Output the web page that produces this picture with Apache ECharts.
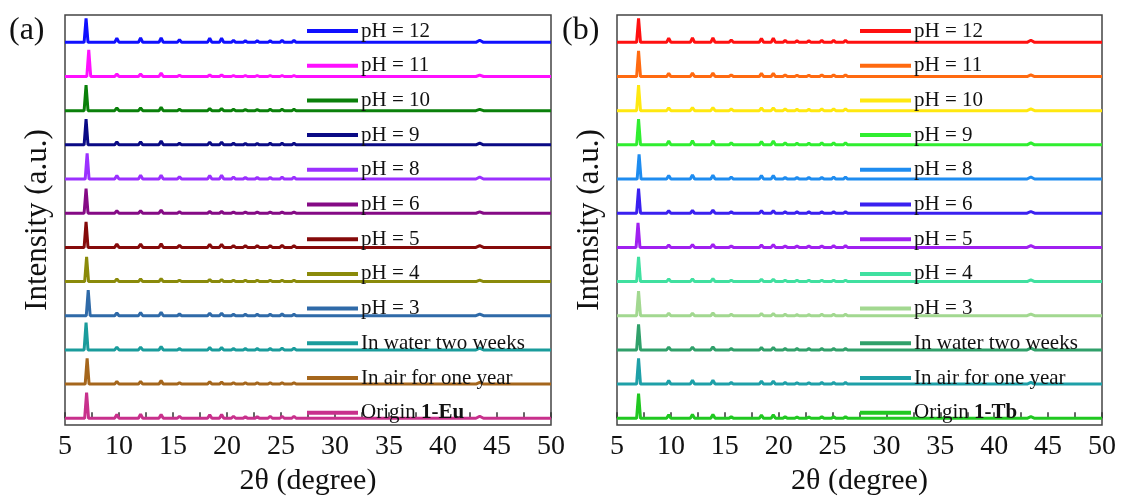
<!DOCTYPE html>
<html><head><meta charset="utf-8">
<script src="https://cdn.jsdelivr.net/npm/echarts@6/dist/echarts.min.js"></script>
<style>html,body{margin:0;padding:0;background:#fff}#c{width:1123px;height:501px}</style>
</head><body><div id="c"></div>
<script>
// ---- data ----
const xTicks = [5, 10, 15, 20, 25, 30, 35, 40, 45, 50];
const labelsA = ['pH = 12','pH = 11','pH = 10','pH = 9','pH = 8','pH = 6','pH = 5','pH = 4','pH = 3','In water two weeks','In air for one year','Origin 1-Eu'];
const labelsB = ['pH = 12','pH = 11','pH = 10','pH = 9','pH = 8','pH = 6','pH = 5','pH = 4','pH = 3','In water two weeks','In air for one year','Origin 1-Tb'];
const colorsA = ['#1010ff','#ff10ff','#0a800a','#0a0a85','#9b30ff','#850a85','#850a0a','#8a8a0a','#2f6aa8','#1a9c9c','#a5661c','#c8308c'];
const colorsB = ['#ff1010','#ff6a10','#ffe810','#30ee30','#1e8cf0','#3a20f0','#a020f0','#40e0a0','#a2d890','#30a06a','#1ea0a8','#20c820'];
// peak positions (2θ, degree)
const peakPos = [9.8, 12.0, 13.9, 15.6, 18.4, 19.5, 20.6, 21.7, 22.8, 24.0, 25.1, 26.2, 43.4];
// main peak position per trace (top to bottom)
const mainPosA = [6.95, 7.2, 6.95, 6.95, 7.05, 6.95, 6.95, 7.0, 7.15, 6.95, 7.05, 7.0];
const mainPosB = [7.0, 7.0, 7.0, 7.0, 7.05, 7.0, 6.95, 7.0, 7.0, 7.0, 7.0, 7.0];
// main peak heights (in units of the trace spacing)
const mainHA = [0.70, 0.78, 0.75, 0.75, 0.75, 0.72, 0.75, 0.72, 0.75, 0.80, 0.75, 0.75];
const mainHB = [0.70, 0.75, 0.75, 0.75, 0.72, 0.72, 0.72, 0.72, 0.72, 0.75, 0.75, 0.72];
// minor peak heights per trace (same order as peakPos)
const minorA = [
  [0.12,0.13,0.13,0.08,0.12,0.12,0.06,0.05,0.05,0.05,0.06,0.06,0.06],
  [0.07,0.07,0.10,0.04,0.05,0.05,0.03,0.03,0.03,0.03,0.03,0.03,0.04],
  [0.08,0.08,0.10,0.04,0.06,0.06,0.04,0.03,0.03,0.04,0.04,0.04,0.04],
  [0.09,0.09,0.11,0.05,0.08,0.08,0.05,0.04,0.04,0.05,0.05,0.05,0.05],
  [0.10,0.11,0.11,0.07,0.10,0.11,0.06,0.05,0.05,0.05,0.06,0.06,0.06],
  [0.07,0.07,0.09,0.04,0.05,0.05,0.03,0.03,0.03,0.03,0.03,0.03,0.04],
  [0.10,0.10,0.11,0.06,0.09,0.09,0.05,0.05,0.05,0.05,0.06,0.05,0.05],
  [0.08,0.08,0.09,0.04,0.06,0.06,0.04,0.04,0.04,0.04,0.04,0.04,0.04],
  [0.08,0.09,0.10,0.05,0.07,0.07,0.04,0.04,0.04,0.04,0.05,0.04,0.05],
  [0.08,0.08,0.10,0.04,0.07,0.07,0.04,0.04,0.04,0.04,0.05,0.05,0.05],
  [0.08,0.08,0.10,0.04,0.07,0.06,0.04,0.04,0.04,0.04,0.04,0.04,0.05],
  [0.11,0.12,0.11,0.06,0.10,0.11,0.06,0.05,0.05,0.06,0.06,0.06,0.06]
];
const minorB = [
  [0.12,0.13,0.13,0.07,0.11,0.12,0.06,0.05,0.05,0.06,0.06,0.06,0.06],
  [0.09,0.10,0.10,0.05,0.09,0.09,0.05,0.04,0.04,0.05,0.05,0.05,0.05],
  [0.08,0.09,0.09,0.05,0.08,0.08,0.05,0.04,0.04,0.05,0.05,0.05,0.05],
  [0.11,0.12,0.12,0.06,0.10,0.11,0.06,0.05,0.05,0.06,0.06,0.06,0.06],
  [0.10,0.12,0.11,0.06,0.10,0.10,0.05,0.05,0.05,0.05,0.06,0.06,0.06],
  [0.07,0.08,0.09,0.04,0.07,0.07,0.04,0.04,0.04,0.04,0.04,0.04,0.05],
  [0.07,0.08,0.09,0.04,0.07,0.08,0.04,0.04,0.04,0.04,0.05,0.05,0.05],
  [0.08,0.08,0.09,0.04,0.07,0.07,0.04,0.04,0.04,0.04,0.04,0.04,0.05],
  [0.07,0.07,0.08,0.04,0.06,0.06,0.04,0.03,0.03,0.04,0.04,0.04,0.05],
  [0.08,0.08,0.09,0.04,0.07,0.07,0.04,0.04,0.04,0.04,0.04,0.04,0.05],
  [0.10,0.11,0.11,0.05,0.09,0.09,0.05,0.04,0.04,0.05,0.05,0.05,0.05],
  [0.10,0.11,0.11,0.05,0.09,0.10,0.05,0.04,0.04,0.05,0.05,0.05,0.05]
];

// ---- build ----
const FONT = '"Liberation Serif","Times New Roman",serif';
function trace(offset, mainPos, mainH, minor) {
  const pts = [[5, offset], [mainPos - 0.18, offset], [mainPos, offset + mainH], [mainPos + 0.18, offset]];
  peakPos.forEach((p, i) => {
    const w = p > 40 ? 0.35 : 0.2;
    pts.push([p - w, offset], [p, offset + minor[i]], [p + w, offset]);
  });
  pts.push([50, offset]);
  return pts;
}
const series = [];
function addPanel(prefix, labels, colors, mainPos, mainH, minor, idx) {
  labels.forEach((lab, i) => {
    series.push({
      name: prefix + lab, type: 'line', xAxisIndex: idx, yAxisIndex: idx,
      data: trace(11 - i, mainPos[i], mainH[i], minor[i]),
      showSymbol: false, symbol: 'none', smooth: false,
      lineStyle: { width: 3, color: colors[i] }, itemStyle: { color: colors[i] },
      animation: false, z: 3
    });
  });
}
addPanel('A_', labelsA, colorsA, mainPosA, mainHA, minorA, 0);
addPanel('B_', labelsB, colorsB, mainPosB, mainHB, minorB, 1);

function legend(prefix, labels, left) {
  return {
    data: labels.map(l => prefix + l), orient: 'vertical', left: left, top: 20, padding: 0,
    icon: 'rect', itemWidth: 51, itemHeight: 4, itemGap: 12.7, selectedMode: false,
    formatter: n => {
      const t = n.slice(2);
      const m = t.match(/^Origin (.*)$/);
      return m ? 'Origin {b|' + m[1] + '}' : t;
    },
    textStyle: { fontFamily: FONT, fontSize: 21, lineHeight: 22, color: '#111', padding: [0, 0, 0, -2],
      rich: { b: { fontFamily: FONT, fontSize: 21, lineHeight: 22, fontWeight: 'bold', color: '#111' } } }
  };
}
function xAxis(idx) {
  return {
    type: 'value', gridIndex: idx, min: 5, max: 50, interval: 5,
    name: '2θ (degree)', nameLocation: 'middle', nameGap: 38,
    nameTextStyle: { fontFamily: FONT, fontSize: 30, color: '#111' },
    axisLine: { show: false },
    axisTick: { show: true, inside: true, length: 6, lineStyle: { color: '#333', width: 1.5 } },
    minorTick: { show: true, splitNumber: 2, length: 6, lineStyle: { color: '#333', width: 1.5 } },
    splitLine: { show: false },
    axisLabel: { fontFamily: FONT, fontSize: 28, color: '#111', margin: 8 }
  };
}
function yAxis(idx) {
  return {
    type: 'value', gridIndex: idx, min: -0.2, max: 11.8,
    name: 'Intensity (a.u.)', nameLocation: 'middle', nameGap: 12,
    nameTextStyle: { fontFamily: FONT, fontSize: 31, color: '#111' },
    axisLine: { show: false }, axisTick: { show: false }, axisLabel: { show: false }, splitLine: { show: false }
  };
}
const option = {
  animation: false,
  backgroundColor: '#fff',
  grid: [
    { left: 65, right: 572, top: 15, bottom: 71, show: true, borderColor: '#444', borderWidth: 1.5, backgroundColor: 'transparent' },
    { left: 617, right: 21, top: 15, bottom: 71, show: true, borderColor: '#444', borderWidth: 1.5, backgroundColor: 'transparent' }
  ],
  xAxis: [xAxis(0), xAxis(1)],
  yAxis: [yAxis(0), yAxis(1)],
  legend: [legend('A_', labelsA, 307), legend('B_', labelsB, 860)],
  graphic: [
    { type: 'text', left: 9, top: 15, style: { text: '(a)', font: '32px ' + FONT, fill: '#111' } },
    { type: 'text', left: 562, top: 15, style: { text: '(b)', font: '32px ' + FONT, fill: '#111' } }
  ],
  series: series
};
const chart = echarts.init(document.getElementById('c'), null, { renderer: 'canvas' });
chart.setOption(option);
</script></body></html>
